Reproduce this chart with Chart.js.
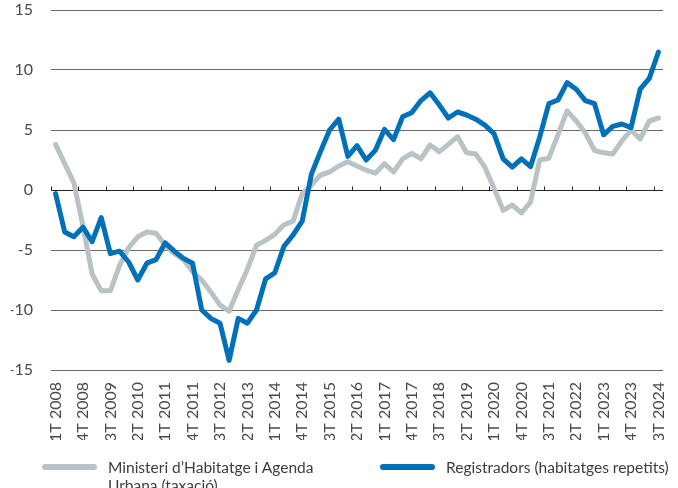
<!DOCTYPE html>
<html>
<head>
<meta charset="utf-8">
<script src="https://cdn.jsdelivr.net/npm/chart.js@4.4.1/dist/chart.umd.min.js"></script>
<style>
  html, body { margin: 0; padding: 0; background: #fff; overflow: hidden; }
  #wrap { position: relative; width: 678px; height: 488px; }
  #chartBox { width: 678px; height: 488px; }
  #legend {
    position: absolute; left: 42px; top: 458px;
    display: grid; grid-template-columns: 338px auto;
    font-family: Lato, sans-serif; font-size: 15.5px; line-height: 18px; color: #3c3c3c;
  }
  #legend .item { display: flex; align-items: flex-start; }
  #legend .swatch { width: 55px; height: 6px; margin-top: 6px; margin-right: 11px; border-radius: 3px; flex: none; }
  #legend .text { white-space: pre-line; }
</style>
</head>
<body>
<div id="wrap">
  <div id="chartBox"><canvas id="chart"></canvas></div>
  <div id="legend"></div>
</div>
<script>
// quarters 1T 2008 .. 3T 2024
const quarters = [];
for (let yr = 2008; yr <= 2024; yr++) {
  for (let q = 1; q <= 4; q++) {
    if (yr === 2024 && q > 3) break;
    quarters.push(q + 'T ' + yr);
  }
}

// Ministeri d'Habitatge i Agenda Urbana (taxació), % interanual
const ministeri = [
  3.8, 2.2, 0.6, -3.0, -7.0, -8.4, -8.4, -6.3, -4.8, -3.9,
  -3.5, -3.6, -4.6, -5.3, -5.8, -6.8, -7.5, -8.5, -9.6, -10.1,
  -8.3, -6.6, -4.6, -4.2, -3.7, -2.9, -2.6, -0.3, 0.4, 1.25,
  1.5, 2.0, 2.35, 2.0, 1.65, 1.4, 2.2, 1.5, 2.6, 3.05,
  2.6, 3.75, 3.2, 3.8, 4.45, 3.1, 3.0, 1.9, 0.15, -1.7,
  -1.25, -1.9, -1.0, 2.5, 2.65, 4.6, 6.6, 5.75, 4.75, 3.3,
  3.1, 3.0, 4.1, 5.0, 4.25, 5.75, 6.0
];

// Registradors (habitatges repetits)
const registradors = [
  -0.3, -3.5, -3.9, -3.1, -4.3, -2.3, -5.3, -5.1, -6.0, -7.5,
  -6.1, -5.8, -4.4, -5.1, -5.7, -6.1, -10.0, -10.7, -11.1, -14.2,
  -10.7, -11.1, -10.0, -7.4, -6.9, -4.7, -3.75, -2.6, 1.3, 3.2,
  5.0, 5.9, 2.8, 3.7, 2.5, 3.3, 5.05, 4.2, 6.1, 6.45,
  7.45, 8.1, 7.1, 6.0, 6.5, 6.25, 5.9, 5.4, 4.7, 2.6,
  1.9, 2.6, 1.95, 4.4, 7.2, 7.5, 8.95, 8.4, 7.45, 7.2,
  4.6, 5.3, 5.5, 5.2, 8.4, 9.3, 11.5
];

const seriesNames = [
  'Ministeri d\u2019Habitatge i Agenda\nUrbana (taxació)',
  'Registradors (habitatges repetits)'
];

const GRAY = '#b9c2c4';
const BLUE = '#0071b9';
const TEXT = '#4a4a4a';
const FONT = 'Lato';

// small tick marks sitting on the zero line, between quarters
const zeroTicks = {
  id: 'zeroTicks',
  beforeDatasetsDraw(chart) {
    const { ctx, scales: { x, y } } = chart;
    const y0 = Math.round(y.getPixelForValue(0)) + 0.5;
    ctx.save();
    ctx.strokeStyle = '#222';
    ctx.lineWidth = 1;
    ctx.beginPath();
    quarters.forEach((q, i) => {
      if (i % 3) return;
      const px = Math.round(x.getPixelForValue(i - 0.5)) + 0.5;
      ctx.moveTo(px, y0);
      ctx.lineTo(px, y0 - 4);
    });
    ctx.stroke();
    ctx.restore();
  }
};

// legend built as html under the plot
const htmlLegend = {
  id: 'htmlLegend',
  afterUpdate(chart) {
    const box = document.getElementById('legend');
    box.innerHTML = '';
    chart.data.datasets.forEach(ds => {
      const item = document.createElement('div');
      item.className = 'item';
      const sw = document.createElement('span');
      sw.className = 'swatch';
      sw.style.background = ds.borderColor;
      const txt = document.createElement('span');
      txt.className = 'text';
      txt.textContent = ds.label;
      item.appendChild(sw);
      item.appendChild(txt);
      box.appendChild(item);
    });
  }
};

new Chart(document.getElementById('chart'), {
  type: 'line',
  data: {
    labels: quarters,
    datasets: [
      {
        label: seriesNames[0],
        data: ministeri,
        borderColor: GRAY,
        backgroundColor: GRAY,
        order: 1
      },
      {
        label: seriesNames[1],
        data: registradors,
        borderColor: BLUE,
        backgroundColor: BLUE,
        order: 0
      }
    ]
  },
  options: {
    responsive: true,
    maintainAspectRatio: false,
    animation: false,
    elements: {
      line: { borderWidth: 5, tension: 0, borderCapStyle: 'round', borderJoinStyle: 'round' },
      point: { radius: 0 }
    },
    layout: { padding: { left: 11, right: 15, top: 10, bottom: 48 } },
    scales: {
      x: {
        offset: true,
        grid: { display: false, drawTicks: false },
        border: { display: false },
        ticks: {
          autoSkip: false,
          minRotation: 90,
          maxRotation: 90,
          padding: 12,
          color: TEXT,
          font: { family: FONT, size: 16 },
          callback: (v, i) => (i % 3 === 0 ? quarters[i] : '')
        },
        afterFit(s) {
          s.height = 70;
          s.paddingLeft = 0;
          s.paddingRight = 0;
        }
      },
      y: {
        min: -15,
        max: 15,
        border: { display: false },
        grid: {
          drawTicks: false,
          color: c => (c.tick.value === 0 ? '#222' : '#6a6a6a'),
          lineWidth: 1
        },
        ticks: {
          stepSize: 5,
          padding: 18,
          color: TEXT,
          font: { family: FONT, size: 16 }
        },
        afterFit(s) {
          s.width = 40;
          s.paddingTop = 0;
          s.paddingBottom = 0;
        }
      }
    },
    plugins: {
      tooltip: { enabled: false },
      legend: { display: false }
    }
  },
  plugins: [zeroTicks, htmlLegend]
});
</script>
</body>
</html>
